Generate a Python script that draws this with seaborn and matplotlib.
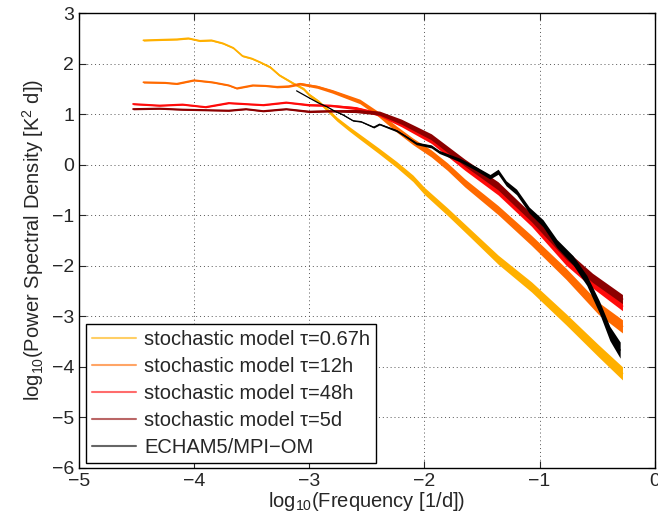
import numpy as np
import pandas as pd
import seaborn as sns
import matplotlib.pyplot as plt

# values (log10 frequency, log10 PSD, half-width of the noise band)
labels = ['stochastic model \u03c4=0.67h', 'stochastic model \u03c4=12h',
          'stochastic model \u03c4=48h', 'stochastic model \u03c4=5d', 'ECHAM5/MPI\u2212OM']
colors = ['#FFB000', '#FF6A00', '#FF0A0A', '#8C0000', '#000000']

x_067h = [-4.44, -4.30, -4.15, -4.05, -3.95, -3.85, -3.75, -3.66, -3.58, -3.50, -3.43,
          -3.34, -3.26, -3.14, -3.05, -3.00, -2.92, -2.85, -2.76, -2.66, -2.56, -2.40,
          -2.24, -2.10, -2.00, -1.80, -1.60, -1.36, -1.07, -0.77, -0.49, -0.28]
y_067h = [2.46, 2.47, 2.48, 2.50, 2.45, 2.46, 2.40, 2.31, 2.15, 2.10, 2.03,
          1.93, 1.77, 1.61, 1.50, 1.38, 1.25, 1.10, 0.90, 0.72, 0.55, 0.28,
          0.00, -0.27, -0.52, -0.93, -1.36, -1.88, -2.42, -3.06, -3.68, -4.13]
s_067h = [0.015, 0.015, 0.015, 0.015, 0.015, 0.015, 0.015, 0.015, 0.015, 0.015, 0.015,
          0.02, 0.02, 0.02, 0.025, 0.03, 0.03, 0.035, 0.04, 0.045, 0.05, 0.055,
          0.06, 0.065, 0.07, 0.075, 0.08, 0.09, 0.10, 0.11, 0.12, 0.13]

x_12h = [-4.44, -4.25, -4.15, -4.00, -3.84, -3.70, -3.63, -3.49, -3.38, -3.28, -3.18,
         -3.08, -2.93, -2.80, -2.68, -2.56, -2.40, -2.24, -2.10, -1.94, -1.80, -1.65,
         -1.36, -1.07, -0.77, -0.49, -0.28]
y_12h = [1.63, 1.62, 1.60, 1.67, 1.63, 1.57, 1.51, 1.57, 1.56, 1.54, 1.55,
         1.60, 1.54, 1.45, 1.35, 1.25, 1.00, 0.70, 0.46, 0.22, -0.04, -0.36,
         -0.90, -1.50, -2.16, -2.84, -3.20]
s_12h = [0.015, 0.015, 0.015, 0.015, 0.015, 0.015, 0.015, 0.015, 0.015, 0.02, 0.02,
         0.025, 0.03, 0.035, 0.04, 0.045, 0.05, 0.06, 0.065, 0.07, 0.075, 0.08,
         0.09, 0.10, 0.11, 0.12, 0.13]

x_48h = [-4.53, -4.30, -4.10, -3.90, -3.70, -3.55, -3.40, -3.20, -3.00, -2.82,
         -2.60, -2.39, -2.20, -1.94, -1.65, -1.36, -1.07, -0.77, -0.54, -0.28]
y_48h = [1.20, 1.17, 1.19, 1.14, 1.22, 1.20, 1.18, 1.23, 1.18, 1.17,
         1.12, 1.00, 0.80, 0.48, -0.04, -0.52, -1.14, -1.90, -2.35, -2.80]
s_48h = [0.015, 0.015, 0.015, 0.015, 0.015, 0.015, 0.015, 0.015, 0.02, 0.02,
         0.03, 0.04, 0.05, 0.06, 0.07, 0.08, 0.08, 0.09, 0.09, 0.09]

x_5d = [-4.53, -4.30, -4.10, -3.90, -3.70, -3.55, -3.40, -3.20, -3.00, -2.82,
        -2.60, -2.39, -2.20, -1.94, -1.65, -1.36, -1.07, -0.77, -0.54, -0.28]
y_5d = [1.10, 1.11, 1.09, 1.08, 1.07, 1.10, 1.06, 1.10, 1.05, 1.06,
        1.06, 1.02, 0.85, 0.55, 0.04, -0.42, -1.05, -1.78, -2.24, -2.66]
s_5d = [0.015, 0.015, 0.015, 0.015, 0.015, 0.015, 0.015, 0.015, 0.02, 0.02,
        0.03, 0.04, 0.05, 0.06, 0.07, 0.08, 0.08, 0.09, 0.09, 0.09]

x_echam = [-3.11, -3.00, -2.92, -2.85, -2.78, -2.71, -2.62, -2.55, -2.44, -2.39,
           -2.24, -2.17, -2.07, -1.94, -1.87, -1.69, -1.55, -1.43, -1.36, -1.29,
           -1.20, -1.09, -0.97, -0.85, -0.71, -0.59, -0.48, -0.39, -0.30]
y_echam = [1.46, 1.32, 1.22, 1.15, 1.06, 0.99, 0.87, 0.85, 0.74, 0.80,
           0.67, 0.57, 0.42, 0.36, 0.25, 0.09, -0.08, -0.24, -0.14, -0.37,
           -0.54, -0.90, -1.16, -1.56, -1.89, -2.29, -2.82, -3.34, -3.67]
s_echam = [0.0, 0.0, 0.0, 0.005, 0.005, 0.01, 0.01, 0.01, 0.015, 0.015,
           0.02, 0.02, 0.025, 0.03, 0.03, 0.035, 0.04, 0.045, 0.05, 0.05,
           0.055, 0.06, 0.07, 0.08, 0.09, 0.10, 0.12, 0.14, 0.16]

series = [(x_067h, y_067h, s_067h), (x_12h, y_12h, s_12h), (x_48h, y_48h, s_48h),
          (x_5d, y_5d, s_5d), (x_echam, y_echam, s_echam)]

frames = []
for lab, (xs, ys, ss) in zip(labels, series):
    frames.append(pd.DataFrame({'f': xs, 'p': ys, 's': ss, 'series': lab}))
df = pd.concat(frames, ignore_index=True)

sns.set_style('ticks')
plt.rcParams['font.family'] = ['Liberation Sans', 'DejaVu Sans']
plt.rcParams['mathtext.default'] = 'regular'
plt.rcParams['axes.unicode_minus'] = True

fig = plt.figure(figsize=(6.58, 5.21), dpi=100)
ax = fig.add_axes([0.12, 0.102, 0.875, 0.873])

sns.lineplot(data=df, x='f', y='p', hue='series', palette=dict(zip(labels, colors)),
             hue_order=labels, estimator=None, sort=False, ax=ax)
for i, line in enumerate(ax.get_lines()):
    line.set_linewidth(0.9 if i == 4 else 1.3)
    line.set_zorder(2 + i)

for i, lab in enumerate(labels):
    d = df[df['series'] == lab]
    ax.fill_between(d['f'], d['p'] - d['s'], d['p'] + d['s'], color=colors[i],
                    lw=0, zorder=2 + i)

ax.set_xlim(-5, 0)
ax.set_ylim(-6, 3)
ax.set_xticks(range(-5, 1))
ax.set_yticks(range(-6, 4))
ax.grid(True, linestyle=(0, (1, 3)), color='#555555', linewidth=0.7)
ax.tick_params(direction='in', top=True, right=True, labelsize=14, length=5, width=0.8)
for sp in ax.spines.values():
    sp.set_linewidth(1.0)
    sp.set_color('black')
ax.set_xlabel('log$_{10}$(Frequency [1/d])', fontsize=14.5, labelpad=0)
ax.set_ylabel('log$_{10}$(Power Spectral Density [K$^2$ d])', fontsize=14.5, labelpad=4)

handles, _ = ax.get_legend_handles_labels()
leg = ax.legend(handles[:5], labels, loc='lower left', bbox_to_anchor=(0.012, 0.01),
                borderaxespad=0, fontsize=14.5, frameon=True, fancybox=False,
                edgecolor='black', framealpha=1, handlelength=2.2, labelspacing=0.4,
                handletextpad=0.4, borderpad=0.3)
leg.get_frame().set_linewidth(1.0)
leg.set_zorder(10)
for h in leg.get_lines():
    h.set_linewidth(1.5)
    h.set_alpha(0.6)

fig.savefig('out.png', dpi=100)
